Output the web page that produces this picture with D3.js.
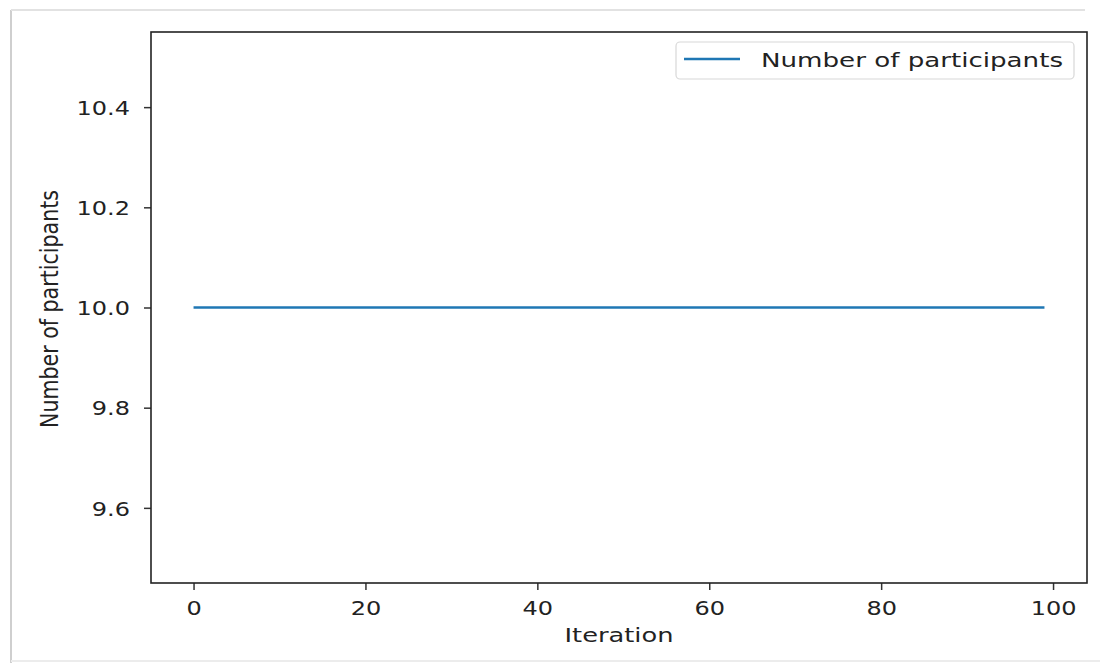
<!DOCTYPE html>
<html>
<head>
<meta charset="utf-8">
<script src="https://cdn.jsdelivr.net/npm/d3@7"></script>
<style>
  body { margin: 0; background: #fff; }
  svg { display: block; }
  text { font-family: "DejaVu Sans", sans-serif; fill: #222; }
</style>
</head>
<body>
<div id="chart"></div>
<script>
// datos: 100 iteraciones, siempre 10 participantes
const participants = [
  10, 10, 10, 10, 10, 10, 10, 10, 10, 10,
  10, 10, 10, 10, 10, 10, 10, 10, 10, 10,
  10, 10, 10, 10, 10, 10, 10, 10, 10, 10,
  10, 10, 10, 10, 10, 10, 10, 10, 10, 10,
  10, 10, 10, 10, 10, 10, 10, 10, 10, 10,
  10, 10, 10, 10, 10, 10, 10, 10, 10, 10,
  10, 10, 10, 10, 10, 10, 10, 10, 10, 10,
  10, 10, 10, 10, 10, 10, 10, 10, 10, 10,
  10, 10, 10, 10, 10, 10, 10, 10, 10, 10,
  10, 10, 10, 10, 10, 10, 10, 10, 10, 10
];
const xTicks = [0, 20, 40, 60, 80, 100];
const yTicks = [9.6, 9.8, 10.0, 10.2, 10.4];
const seriesName = "Number of participants";

const width = 1109, height = 663;
const margin = { left: 151, right: 22, top: 32, bottom: 80 };

const svg = d3.select("#chart").append("svg")
    .attr("width", width)
    .attr("height", height);

// marco gris de la captura
const frame = svg.append("g").attr("stroke", "#cfcfcf").attr("stroke-width", 2);
frame.append("line").attr("x1", 11).attr("y1", 10).attr("x2", 11).attr("y2", 663);
frame.append("line").attr("x1", 11).attr("y1", 10).attr("x2", 1085).attr("y2", 10).attr("stroke", "#e2e2e2");
frame.append("line").attr("x1", 11).attr("y1", 661).attr("x2", 1100).attr("y2", 661).attr("stroke", "#ececec");

const x = d3.scaleLinear()
    .domain([-4.95, 103.95])
    .range([margin.left, width - margin.right]);
const y = d3.scaleLinear()
    .domain([9.45, 10.55])
    .range([height - margin.bottom, margin.top]);

// ejes (la imagen esta estirada en horizontal, por eso scale(1.2,1))
const xAxis = svg.append("g")
    .attr("transform", `translate(0,${height - margin.bottom})`)
    .call(d3.axisBottom(x).tickValues(xTicks).tickSize(7).tickPadding(0).tickFormat(d3.format("d")));
xAxis.select(".domain").remove();
xAxis.selectAll("line").attr("stroke", "#333").attr("stroke-width", 1.5);
xAxis.selectAll("text")
    .attr("y", 0)
    .attr("dy", 0)
    .attr("transform", "translate(0,32) scale(1.2,1)")
    .style("font-size", "20px")
    .style("fill", "#222");

const yAxis = svg.append("g")
    .attr("transform", `translate(${margin.left},0)`)
    .call(d3.axisLeft(y).tickValues(yTicks).tickSize(7).tickPadding(0).tickFormat(d3.format(".1f")));
yAxis.select(".domain").remove();
yAxis.selectAll("line").attr("stroke", "#333").attr("stroke-width", 1.5);
yAxis.selectAll("text")
    .attr("x", 0)
    .attr("dy", "0.36em")
    .attr("transform", "translate(-21,0) scale(1.2,1)")
    .style("font-size", "20px")
    .style("fill", "#222");

// linea
const line = d3.line()
    .x((d, i) => x(i))
    .y(d => y(d));

svg.append("path")
    .datum(participants)
    .attr("fill", "none")
    .attr("stroke", "#1f77b4")
    .attr("stroke-width", 2.4)
    .attr("d", line);

// borde del area
svg.append("rect")
    .attr("x", margin.left)
    .attr("y", margin.top)
    .attr("width", width - margin.right - margin.left)
    .attr("height", height - margin.bottom - margin.top)
    .attr("fill", "none")
    .attr("stroke", "#222")
    .attr("stroke-width", 1.6);

// etiquetas
svg.append("text")
    .attr("x", (margin.left + width - margin.right) / 2)
    .attr("y", 642)
    .attr("text-anchor", "middle")
    .attr("textLength", 109)
    .attr("lengthAdjust", "spacingAndGlyphs")
    .style("font-size", "20px")
    .text("Iteration");

svg.append("text")
    .attr("transform", "translate(58,309) rotate(-90) scale(1,1.2)")
    .attr("text-anchor", "middle")
    .attr("textLength", 238)
    .attr("lengthAdjust", "spacingAndGlyphs")
    .style("font-size", "20px")
    .text("Number of participants");

// leyenda
const legend = svg.append("g");
legend.append("rect")
    .attr("x", 676).attr("y", 42)
    .attr("width", 398).attr("height", 37)
    .attr("rx", 4)
    .attr("fill", "#fff")
    .attr("stroke", "#d8d8d8")
    .attr("stroke-width", 1.2);
legend.append("line")
    .attr("x1", 684).attr("x2", 740)
    .attr("y1", 59).attr("y2", 59)
    .attr("stroke", "#1f77b4")
    .attr("stroke-width", 2.4);
legend.append("text")
    .attr("x", 761)
    .attr("y", 67)
    .attr("textLength", 302)
    .attr("lengthAdjust", "spacingAndGlyphs")
    .style("font-size", "20px")
    .text(seriesName);
</script>
</body>
</html>
